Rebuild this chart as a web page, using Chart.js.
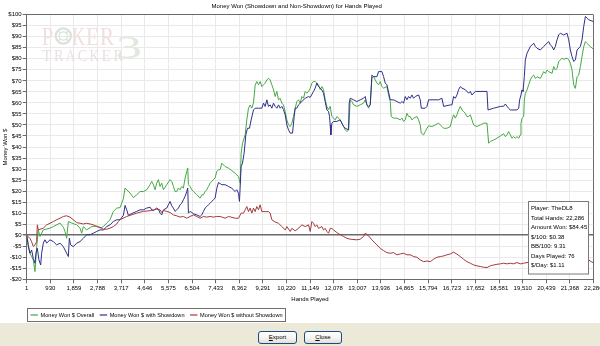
<!DOCTYPE html>
<html>
<head>
<meta charset="utf-8">
<script src="https://cdn.jsdelivr.net/npm/chart.js@4/dist/chart.umd.min.js"></script>
<style>
  html, body { margin: 0; padding: 0; background: #fff; width: 600px; height: 346px; overflow: hidden; }
  #wrap { position: relative; width: 600px; height: 323px; }
  #panel { position: absolute; left: 0; top: 323px; width: 600px; height: 23px; background: #ECE9D8; }
  .btn { position: absolute; top: 8px; height: 13px; box-sizing: border-box; border: 1px solid #1C4A84;
         border-radius: 3px; background: linear-gradient(#FFFFFF, #F5F4EF 55%, #E2DFD5);
         font: 6px "Liberation Sans", Arial, sans-serif; color: #000; text-align: center; line-height: 11px; }
</style>
</head>
<body>
<div id="wrap"><canvas id="c"></canvas></div>
<div id="panel">
  <div class="btn" style="left:258px;width:39px;"><u>E</u>xport</div>
  <div class="btn" style="left:304px;width:38px;"><u>C</u>lose</div>
</div>
<script>
// Hands-played tick positions on the x axis
const xTicks = [1, 930, 1859, 2788, 3717, 4646, 5575, 6504, 7433, 8362, 9291, 10220, 11149,
  12078, 13007, 13936, 14865, 15794, 16723, 17652, 18581, 19510, 20439, 21368, 22286];

// Cumulative winnings per series: [hand number, dollars]
const overallWon = [[1,0],[130,-8.2],[195,-9.7],[261,-11.2],[327,-16.5],[392,-5.2],[458,2.4],[523,-0.6],[655,2.4],
  [917,3.2],[1048,3.9],[1311,5.5],[1442,3.6],[1507,1.7],[1573,-1.4],[1639,6.2],[1770,5.5],[1967,4.7],[2098,3.2],
  [2163,0.9],[2229,3.9],[2360,2.4],[2557,3.9],[2754,4.2],[2885,3.2],[3016,3.9],[3147,5.5],[3279,7.0],[3410,10.8],
  [3541,12.3],[3672,12.5],[3803,16.5],[3869,21.4],[3934,20.6],[4066,19.1],[4197,17.1],[4328,18.3],[4459,19.8],
  [4590,19.8],[4722,20.6],[4853,22.9],[4918,24.4],[4984,22.9],[5050,20.6],[5115,23.6],[5181,25.2],[5246,22.1],
  [5312,23.6],[5378,20.6],[5509,22.9],[5640,25.2],[5706,24.4],[5771,22.1],[5837,19.8],[5902,19.8],[5968,21.4],
  [6034,20.6],[6099,22.1],[6165,21.4],[6230,25.9],[6296,28.9],[6335,30.5],[6362,22.9],[6427,22.1],[6493,20.6],
  [6558,19.8],[6690,18.3],[6821,16.8],[6886,18.3],[6952,18.3],[7018,19.8],[7083,20.6],[7149,22.1],[7214,23.6],
  [7280,24.4],[7346,25.2],[7411,26.0],[7477,28.9],[7542,29.7],[7608,29.7],[7674,32.7],[7806,31.1],[7937,30.4],
  [8068,29.3],[8199,28.1],[8330,26.6],[8396,23.6],[8435,37.2],[8488,41.7],[8593,45.5],[8658,52.3],[8724,57.6],
  [8790,59.0],[8855,57.6],[8921,60.0],[8986,68.0],[9052,69.7],[9118,68.2],[9183,69.7],[9249,67.4],[9314,68.2],
  [9380,69.0],[9446,70.4],[9511,71.2],[9577,70.4],[9642,68.2],[9708,66.0],[9774,62.9],[9839,65.2],[9905,61.4],
  [9970,62.1],[10036,59.9],[10102,59.1],[10167,56.0],[10233,52.3],[10298,50.0],[10364,49.3],[10430,50.8],
  [10495,53.8],[10561,57.6],[10626,60.6],[10692,61.4],[10758,59.9],[10823,62.9],[10889,62.1],[10954,65.2],
  [11020,64.4],[11086,65.2],[11151,66.5],[11217,69.0],[11282,69.7],[11348,69.7],[11479,68.2],[11545,66.0],
  [11610,67.4],[11676,66.0],[11741,61.4],[11807,58.4],[11873,56.9],[11938,58.4],[12004,53.8],[12135,52.3],
  [12201,53.8],[12332,52.3],[12397,50.8],[12463,49.3],[12529,47.8],[12594,47.0],[12660,47.8],[12699,55.3],
  [12725,61.4],[12791,60.6],[12857,59.1],[12988,58.4],[13119,59.1],[13250,59.9],[13316,61.4],[13381,59.1],
  [13447,57.6],[13513,59.1],[13578,71.2],[13644,72.0],[13710,70.4],[13775,69.0],[13841,68.2],[13906,69.7],
  [13972,67.4],[14038,66.7],[14169,67.4],[14234,63.6],[14300,60.6],[14339,53.8],[14431,53.1],[14562,53.1],
  [14693,52.3],[14759,53.1],[14825,51.6],[14890,52.3],[14956,55.3],[15021,53.8],[15087,53.8],[15152,52.3],
  [15218,53.1],[15349,53.8],[15415,52.3],[15480,50.0],[15520,46.3],[15612,45.5],[15677,47.0],[15743,48.5],
  [15808,49.6],[15940,49.3],[16071,50.0],[16202,50.8],[16333,49.3],[16399,48.5],[16530,48.5],[16661,49.3],
  [16727,52.3],[16792,54.6],[16858,53.1],[16924,54.6],[16989,56.8],[17055,58.4],[17120,56.8],[17186,56.1],
  [17252,55.3],[17317,53.8],[17383,53.8],[17448,54.6],[17514,52.3],[17580,50.0],[17711,49.3],[17842,50.0],
  [17973,50.8],[18104,50.8],[18170,41.7],[18236,42.5],[18367,43.2],[18498,44.0],[18629,45.0],[18760,46.0],
  [18826,44.7],[18891,45.5],[18957,47.0],[19023,45.5],[19088,44.0],[19154,44.7],[19219,44.0],[19285,44.7],
  [19351,44.0],[19416,45.5],[19442,50.8],[19482,53.1],[19547,53.8],[19574,61.4],[19613,64.4],[19679,65.9],
  [19744,68.2],[19810,70.4],[19876,71.9],[19941,72.6],[20007,71.1],[20072,71.9],[20203,71.1],[20269,72.6],
  [20335,74.2],[20400,73.4],[20466,74.9],[20531,74.2],[20663,73.4],[20728,76.5],[20794,74.9],[20859,75.7],
  [20925,78.7],[20991,79.5],[21056,80.3],[21122,79.8],[21253,80.3],[21319,79.5],[21384,78.0],[21450,74.9],
  [21515,68.2],[21581,66.6],[21647,71.9],[21712,72.6],[21778,76.5],[21843,81.0],[21909,85.5],[21975,87.8],
  [22040,87.0],[22106,86.3],[22171,85.5],[22286,84.45]];

const showdownWon = [[1,0],[64,-5.2],[130,-8.2],[195,-6.7],[261,-10.6],[327,-12.7],[366,-8.2],[418,-5.9],[484,-11.2],
  [550,-13.5],[589,-8.2],[655,-3.6],[720,-2.1],[786,-3.6],[917,-2.1],[1048,-2.9],[1179,-4.4],[1311,-3.6],[1442,-5.2],
  [1573,-8.2],[1639,-9.7],[1678,-1.4],[1730,-4.4],[1835,-5.2],[1967,-3.6],[2098,-2.9],[2229,-1.4],[2360,0.2],
  [2491,0.2],[2623,0.9],[2754,1.7],[2885,2.4],[3016,2.4],[3147,3.9],[3279,4.7],[3410,6.2],[3541,7.0],[3672,7.0],
  [3803,9.0],[3869,13.5],[3935,11.5],[4000,9.0],[4131,9.8],[4328,10.8],[4459,11.5],[4590,11.5],[4722,12.3],
  [4853,12.7],[4918,11.5],[4984,11.2],[5115,12.3],[5181,11.8],[5246,10.0],[5312,9.2],[5378,11.5],[5509,12.3],
  [5574,13.8],[5640,15.3],[5706,13.3],[5771,12.3],[5837,10.8],[5902,11.5],[5968,12.3],[6034,13.8],[6099,14.5],
  [6165,16.1],[6230,17.6],[6296,19.8],[6335,21.4],[6362,10.0],[6427,10.8],[6493,10.3],[6558,9.7],[6690,9.2],
  [6821,8.5],[6886,9.2],[6952,10.8],[7018,12.3],[7083,13.0],[7149,13.8],[7214,14.5],[7280,15.3],[7346,16.1],
  [7411,16.8],[7478,21.3],[7543,23.9],[7674,22.9],[7806,22.9],[7937,22.1],[8068,21.3],[8199,19.8],[8265,20.6],
  [8330,19.0],[8370,15.3],[8435,31.1],[8488,32.7],[8553,37.2],[8619,45.5],[8685,48.5],[8763,48.5],[8829,52.3],
  [8921,56.8],[8986,57.6],[9118,57.6],[9249,57.6],[9314,59.9],[9380,58.4],[9446,61.4],[9511,58.4],[9577,59.1],
  [9642,57.6],[9708,59.9],[9774,58.4],[9839,57.6],[9905,59.1],[9970,57.6],[10036,58.4],[10102,56.9],[10167,54.6],
  [10233,50.0],[10298,47.8],[10364,46.3],[10456,46.3],[10521,53.8],[10561,57.6],[10626,57.6],[10692,59.1],
  [10823,60.6],[10954,62.1],[11086,62.9],[11151,62.5],[11282,65.2],[11348,66.7],[11413,69.0],[11479,67.4],
  [11545,66.7],[11610,65.9],[11676,64.4],[11741,60.6],[11807,56.8],[11873,56.1],[11912,53.8],[11938,50.0],
  [11964,45.5],[12004,50.8],[12069,51.6],[12201,51.6],[12332,52.3],[12463,49.3],[12529,48.5],[12660,47.8],
  [12686,59.9],[12725,62.1],[12857,61.4],[12988,60.6],[13119,61.4],[13250,62.1],[13316,62.9],[13381,59.1],
  [13447,58.4],[13513,59.1],[13578,72.6],[13644,71.9],[13775,71.9],[13841,74.2],[13972,74.2],[14038,71.9],
  [14103,69.0],[14169,68.2],[14300,61.4],[14431,61.4],[14562,60.6],[14693,59.9],[14759,60.6],[14825,59.9],
  [14890,62.9],[14956,61.4],[15021,62.9],[15087,62.1],[15152,63.6],[15218,62.1],[15284,62.9],[15415,63.6],
  [15480,61.4],[15520,57.6],[15677,57.6],[15743,58.4],[15808,61.4],[16202,61.4],[16333,62.1],[16399,58.4],
  [16661,59.1],[16727,59.1],[16792,62.9],[16858,62.1],[16924,63.6],[16989,66.0],[17055,67.4],[17120,66.7],
  [17252,66.0],[17383,64.4],[17448,65.2],[17514,63.6],[17645,65.2],[18104,65.2],[18144,56.8],[18367,57.6],
  [18629,58.4],[18760,58.5],[18826,59.5],[18891,58.5],[18957,57.5],[19023,56.8],[19285,56.8],[19351,57.6],
  [19390,61.4],[19442,63.6],[19482,65.9],[19521,65.2],[19574,72.0],[19613,79.5],[19679,82.5],[19744,84.0],
  [19810,85.6],[19876,86.3],[19941,87.1],[20007,85.6],[20072,84.8],[20203,84.0],[20335,85.6],[20466,87.1],
  [20531,87.8],[20597,86.3],[20663,85.6],[20728,84.0],[20794,85.6],[20859,88.6],[20925,90.8],[20991,91.6],
  [21122,90.8],[21253,91.6],[21319,88.6],[21384,84.0],[21450,81.0],[21515,78.8],[21581,79.5],[21647,84.0],
  [21778,85.6],[21843,88.6],[21909,94.6],[21975,99.2],[22040,98.4],[22106,97.7],[22286,96.9]];

const nonShowdownWon = [[1,0],[130,-1.5],[195,-3.0],[261,-5.1],[327,-4.4],[392,-3.0],[418,4.7],[458,2.4],[655,3.2],
  [786,4.7],[917,5.4],[1048,6.2],[1179,7.0],[1311,7.7],[1442,8.5],[1573,8.8],[1704,8.2],[1835,7.0],[1967,5.7],
  [2098,5.4],[2229,5.1],[2360,5.4],[2491,5.1],[2623,4.7],[2754,3.9],[2885,3.6],[3016,2.7],[3147,2.7],[3279,3.2],
  [3410,3.9],[3541,5.1],[3606,6.2],[3672,7.0],[3934,8.5],[4197,9.5],[4328,10.0],[4590,10.8],[4853,11.1],
  [4984,11.5],[5115,11.8],[5246,11.5],[5312,10.3],[5378,11.2],[5509,10.8],[5640,10.3],[5771,9.2],[5902,8.8],
  [6034,8.2],[6165,8.5],[6296,7.7],[6427,8.5],[6558,9.2],[6690,8.5],[6821,7.7],[6952,8.5],[7083,8.2],[7214,8.5],
  [7346,8.2],[7477,8.5],[7608,8.5],[7806,7.7],[7937,8.5],[8199,7.7],[8330,7.7],[8435,10.0],[8527,10.0],
  [8593,11.5],[8658,13.0],[8724,10.7],[8790,12.3],[8855,10.0],[8921,12.3],[8986,10.7],[9052,13.0],[9118,11.5],
  [9183,13.8],[9249,10.7],[9380,10.7],[9511,10.7],[9577,10.0],[9642,7.0],[9774,6.0],[9905,5.4],[10036,3.9],
  [10167,2.4],[10233,3.9],[10364,1.7],[10430,3.1],[10561,2.0],[10692,3.1],[10823,4.7],[10954,3.9],[11086,4.7],
  [11151,1.7],[11217,6.2],[11282,5.4],[11348,3.9],[11413,4.7],[11479,3.1],[11610,3.9],[11676,2.4],[11741,3.1],
  [11807,1.7],[11873,0.9],[11938,3.1],[12004,3.1],[12069,2.4],[12201,1.2],[12332,0.2],[12463,-0.6],[12594,-1.4],
  [12725,-1.8],[12988,-2.1],[13119,-1.8],[13250,-0.6],[13316,0.9],[13447,-0.3],[13578,-2.1],[13775,-4.4],
  [13906,-6.0],[14038,-7.0],[14168,-7.9],[14299,-8.2],[14430,-7.9],[14562,-8.9],[14693,-8.5],[14824,-8.2],
  [14955,-8.9],[15087,-8.9],[15218,-9.7],[15349,-10.0],[15480,-11.2],[15612,-12.0],[15743,-11.7],[15874,-12.0],
  [16005,-10.9],[16136,-10.0],[16267,-9.7],[16399,-9.4],[16530,-8.9],[16661,-8.5],[16792,-7.7],[16923,-8.6],
  [17055,-9.7],[17186,-10.9],[17317,-12.0],[17448,-12.7],[17580,-13.5],[17711,-13.9],[17842,-14.2],[17973,-14.5],
  [18104,-14.7],[18235,-13.9],[18367,-13.5],[18498,-13.2],[18629,-13.0],[18760,-12.7],[18891,-13.0],[19023,-12.7],
  [19154,-13.0],[19285,-12.4],[19416,-13.0],[19547,-12.7],[19679,-12.4],[19941,-12.2],[20269,-12.8],[20597,-12.3],
  [20925,-12.0],[21253,-12.5],[21581,-11.8],[21909,-11.3],[22106,-11.2],[22200,-12.0],[22286,-12.45]];

const seriesNames = ['Money Won $ Overall', 'Money Won $ with Showdown', 'Money Won $ without Showdown'];
const seriesColors = ['#45A845', '#2F2F8C', '#A33B3B'];

const statLines = ['Player: TheDL8', 'Total Hands: 22,286', 'Amount Won: $84.45', '$/100: $0.38',
  'BB/100: 9.31', 'Days Played: 76', '$/Day: $1.11'];

const FONT = '"Liberation Sans", Arial, sans-serif';
const GRID = '#E9E9E9';
const AXIS = '#6A6A6A';

const toPoints = rows => rows.map(([x, y]) => ({ x, y }));

// Faint product logo behind the lines
function glyph(ctx, ch, x, w, base, size, color) {
  ctx.save();
  ctx.font = size + 'px "Liberation Serif", serif';
  const m = ctx.measureText(ch).width;
  ctx.translate(x, base);
  ctx.scale(w / m, 1);
  ctx.fillStyle = color;
  ctx.fillText(ch, 0, 0);
  ctx.restore();
}

const logoPlugin = {
  id: 'logo',
  beforeDatasetsDraw(chart) {
    const ctx = chart.ctx;
    ctx.save();
    ctx.textBaseline = 'alphabetic';
    const pink = '#F1DEDE';
    glyph(ctx, 'P', 41.7, 11.5, 45, 26, pink);
    // chip for the "O"
    ctx.strokeStyle = '#DCE2D9';
    ctx.lineWidth = 2.2;
    ctx.beginPath(); ctx.arc(63.3, 36, 7.6, 0, Math.PI * 2); ctx.stroke();
    ctx.lineWidth = 1.2;
    ctx.beginPath(); ctx.arc(63.3, 36, 4.2, 0, Math.PI * 2); ctx.stroke();
    for (let i = 0; i < 4; i++) {
      const a = i * Math.PI / 2 + Math.PI / 4;
      ctx.beginPath();
      ctx.moveTo(63.3 + Math.cos(a) * 4.2, 36 + Math.sin(a) * 4.2);
      ctx.lineTo(63.3 + Math.cos(a) * 7.6, 36 + Math.sin(a) * 7.6);
      ctx.stroke();
    }
    glyph(ctx, 'K', 72, 13, 45, 26, pink);
    glyph(ctx, 'E', 86, 13, 45, 26, pink);
    glyph(ctx, 'R', 100, 14, 45, 26, pink);
    glyph(ctx, '3', 116, 26, 58, 32, '#E1E8DD');
    const grey = '#E9E1E1';
    const word = 'TRACKER';
    for (let i = 0; i < word.length; i++) glyph(ctx, word[i], 42 + i * 11.9, 9.5, 61, 17, grey);
    ctx.restore();
  }
};

// Summary box and bordered legend drawn over the plot
const overlayPlugin = {
  id: 'overlay',
  afterDraw(chart) {
    const ctx = chart.ctx;
    ctx.save();
    // summary box
    ctx.fillStyle = '#FFFFFF';
    ctx.fillRect(528.5, 201.5, 60, 72.5);
    ctx.strokeStyle = '#7A7A7A';
    ctx.lineWidth = 1;
    ctx.strokeRect(528.5, 201.5, 60, 72.5);
    ctx.fillStyle = '#000';
    ctx.font = '6px ' + FONT;
    ctx.textBaseline = 'middle';
    ctx.textAlign = 'left';
    statLines.forEach((t, i) => ctx.fillText(t, 531, 208.5 + i * 9.55));

    // legend entries, then a frame fitted round them
    ctx.font = '5.6px ' + FONT;
    let x = 30.5;
    seriesNames.forEach((name, i) => {
      ctx.strokeStyle = seriesColors[i];
      ctx.lineWidth = 1.2;
      ctx.beginPath(); ctx.moveTo(x, 315); ctx.lineTo(x + 7.5, 315); ctx.stroke();
      ctx.fillStyle = '#000';
      ctx.fillText(name, x + 10, 315.2);
      x += 10 + ctx.measureText(name).width + (i < seriesNames.length - 1 ? 5.5 : 2.5);
    });
    ctx.strokeStyle = '#6F6F6F';
    ctx.lineWidth = 1;
    ctx.strokeRect(27.5, 308.5, Math.round(x - 27.5), 13);
    ctx.restore();
  }
};

const tickFont = { family: FONT, size: 6 };

new Chart(document.getElementById('c'), {
  type: 'line',
  data: {
    datasets: [
      { label: seriesNames[0], data: toPoints(overallWon), borderColor: seriesColors[0], order: 3 },
      { label: seriesNames[1], data: toPoints(showdownWon), borderColor: seriesColors[1], order: 2 },
      { label: seriesNames[2], data: toPoints(nonShowdownWon), borderColor: seriesColors[2], order: 1 }
    ]
  },
  options: {
    responsive: true,
    maintainAspectRatio: false,
    animation: false,
    devicePixelRatio: 1,
    elements: { point: { radius: 0 }, line: { borderWidth: 1, tension: 0 } },
    layout: { padding: { left: 0, right: 6.7, top: 0, bottom: 0 } },
    plugins: {
      legend: { display: false },
      tooltip: { enabled: false },
      title: {
        display: true,
        text: 'Money Won (Showdown and Non-Showdown) for Hands Played',
        color: '#000',
        font: { family: FONT, size: 6, weight: 'normal' },
        padding: { top: 2.5, bottom: 5 }
      }
    },
    scales: {
      x: {
        type: 'linear',
        min: 1,
        max: 22286,
        afterBuildTicks: s => { s.ticks = xTicks.map(v => ({ value: v })); },
        afterFit: s => { s.height = 43.7; s.paddingLeft = 0; s.paddingRight = 0; },
        ticks: {
          autoSkip: false, maxRotation: 0, minRotation: 0, padding: 1.5,
          color: '#000', font: tickFont,
          callback: v => Number(v).toLocaleString('en-US')
        },
        grid: {
          color: c => (c.tick && c.tick.value === 22286) ? AXIS : GRID,
          tickColor: AXIS, tickLength: 4, lineWidth: 1
        },
        border: { color: AXIS, width: 1 },
        title: {
          display: true, text: 'Hands Played', color: '#000', font: tickFont,
          padding: { top: 0, bottom: 20.4 }
        }
      },
      y: {
        min: -20,
        max: 100,
        afterFit: s => { s.width = 26.7; s.paddingTop = 0; s.paddingBottom = 0; },
        ticks: {
          stepSize: 5, autoSkip: false, padding: 1, color: '#000', font: tickFont,
          callback: v => (v < 0 ? '-$' + (-v) : '$' + v)
        },
        grid: {
          color: c => {
            const v = c.tick && c.tick.value;
            return (v === 0 || v === 100) ? AXIS : GRID;
          },
          lineWidth: c => (c.tick && c.tick.value === 0) ? 1.5 : 1,
          tickColor: AXIS, tickLength: 4
        },
        border: { color: AXIS, width: 1 },
        title: {
          display: true, text: 'Money Won $', color: '#000', font: tickFont,
          padding: { top: 1.4, bottom: 0 }
        }
      }
    }
  },
  plugins: [logoPlugin, overlayPlugin]
});
</script>
</body>
</html>
